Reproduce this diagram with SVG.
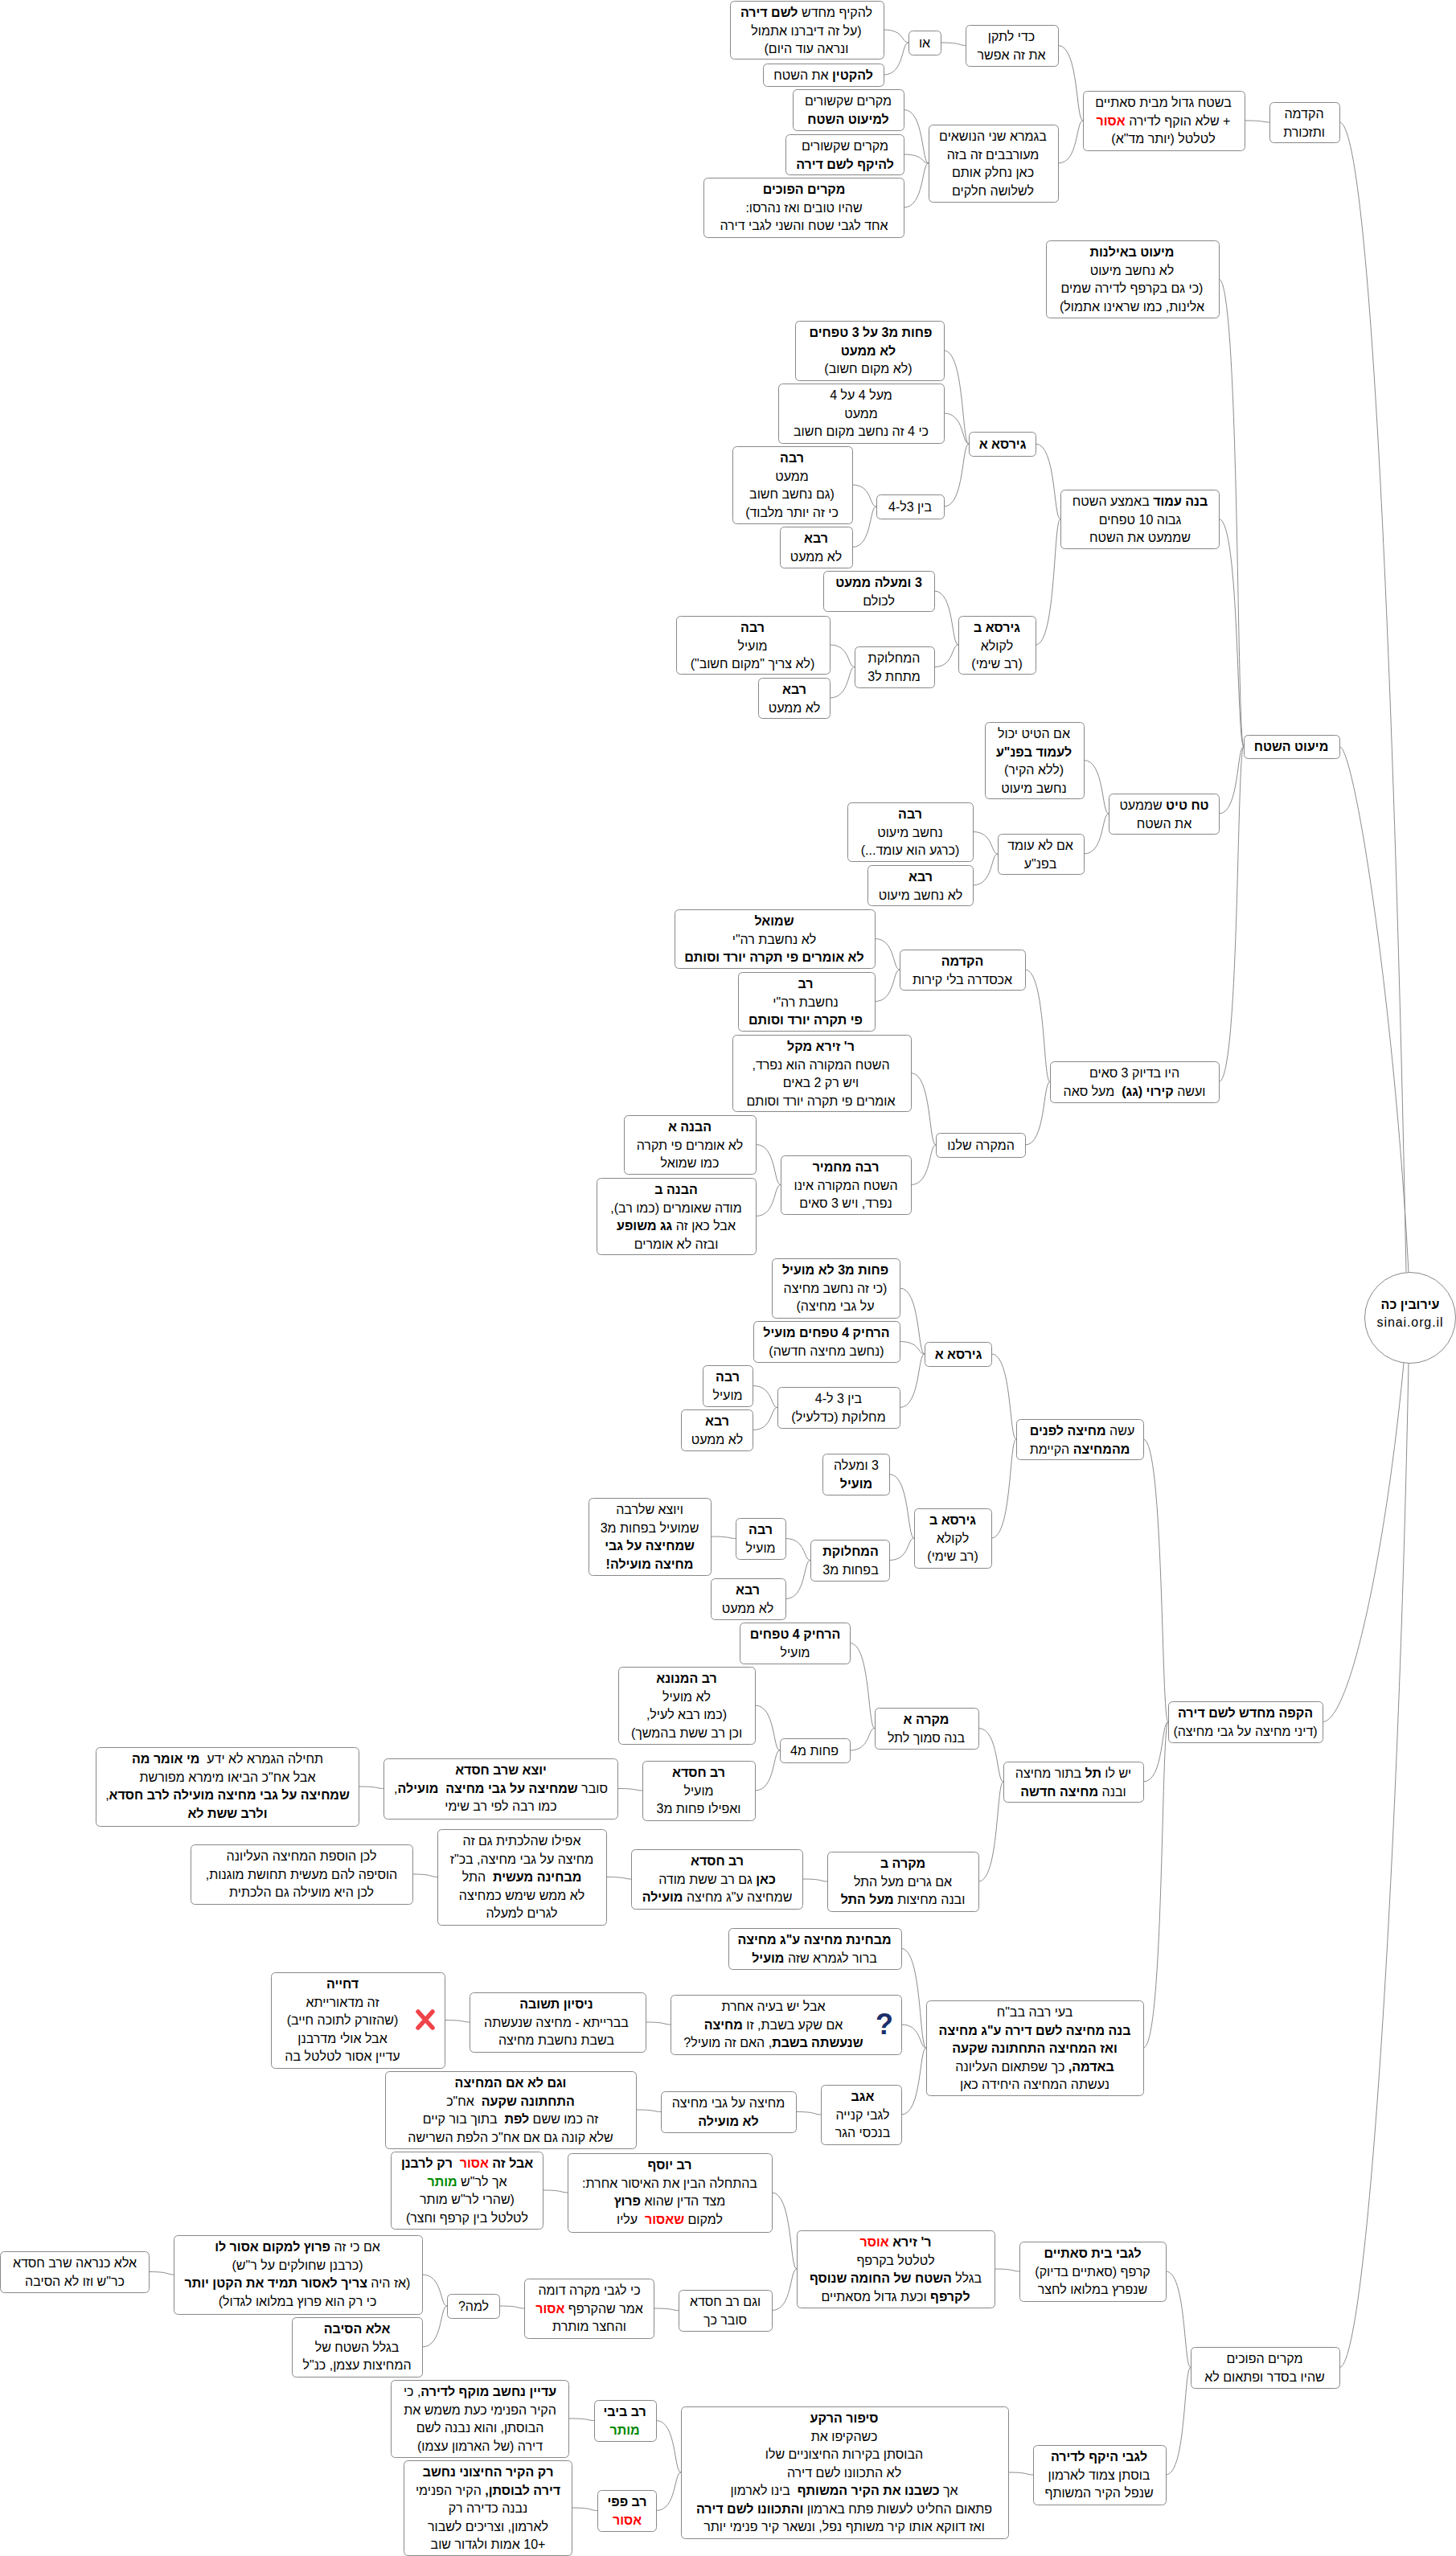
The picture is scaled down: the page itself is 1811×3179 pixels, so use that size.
<svg xmlns="http://www.w3.org/2000/svg" width="1811" height="3179" viewBox="0 0 1811 3179">
<style>
rect,circle{fill:#fff;stroke:#888;stroke-width:1}
rect{rx:5px;ry:5px}
#connectors path{fill:none;stroke:#8c8c8c;stroke-width:1}
text{font-family:"Liberation Sans",Arial,sans-serif;font-size:16px;fill:#000;text-anchor:middle;direction:rtl;white-space:pre}
.b{font-weight:bold}
.r{fill:#f00;font-weight:bold}
.g{fill:#080;font-weight:bold}
</style>
<rect x="0" y="0" width="1811" height="3179" style="fill:#fff;stroke:none"/>
<g id="connectors">
<path d="M1099 37C1125 37 1121 53 1130 53"/>
<path d="M1099 93C1125 93 1121 53 1130 53"/>
<path d="M1170 53C1196 53 1192 56.5 1201 56.5"/>
<path d="M1316 56.5C1342 56.5 1338 150 1347 150"/>
<path d="M1316 203C1342 203 1338 150 1347 150"/>
<path d="M1124 136.5C1150 136.5 1146 203 1155 203"/>
<path d="M1124 192C1150 192 1146 203 1155 203"/>
<path d="M1124 258C1150 258 1146 203 1155 203"/>
<path d="M1548 150C1574 150 1570 152 1579 152"/>
<path d="M1666 152C1705 152 1735 867 1749 1582.5"/>
<path d="M1666 928.5C1685 928.5 1735 1255 1752 1582.5"/>
<path d="M1645 2141.5C1680 2141.5 1725 1920 1746 1695"/>
<path d="M1666 2944.5C1700 2944.5 1740 2320 1752 1695"/>
<path d="M1516 347C1542 347 1538 928.5 1547 928.5"/>
<path d="M1516 645.5C1542 645.5 1538 928.5 1547 928.5"/>
<path d="M1516 1012C1542 1012 1538 928.5 1547 928.5"/>
<path d="M1516 1345.5C1542 1345.5 1538 928.5 1547 928.5"/>
<path d="M1288 552C1314 552 1310 645.5 1319 645.5"/>
<path d="M1288 802C1314 802 1310 645.5 1319 645.5"/>
<path d="M1174 436C1200 436 1196 552 1205 552"/>
<path d="M1174 514C1200 514 1196 552 1205 552"/>
<path d="M1174 630C1200 630 1196 552 1205 552"/>
<path d="M1060 603C1085 603 1081 630 1090 630"/>
<path d="M1060 680.5C1085 680.5 1081 630 1090 630"/>
<path d="M1162 735C1187 735 1183 802 1192 802"/>
<path d="M1162 829.5C1187 829.5 1183 802 1192 802"/>
<path d="M1032 802C1058 802 1054 829.5 1063 829.5"/>
<path d="M1032 868C1058 868 1054 829.5 1063 829.5"/>
<path d="M1348 945.5C1374 945.5 1370 1012 1379 1012"/>
<path d="M1348 1062C1374 1062 1370 1012 1379 1012"/>
<path d="M1210 1034.5C1236 1034.5 1232 1062 1241 1062"/>
<path d="M1210 1101C1236 1101 1232 1062 1241 1062"/>
<path d="M1275 1206C1301 1206 1297 1345.5 1306 1345.5"/>
<path d="M1275 1424C1301 1424 1297 1345.5 1306 1345.5"/>
<path d="M1088 1167.5C1114 1167.5 1110 1206 1119 1206"/>
<path d="M1088 1245.5C1114 1245.5 1110 1206 1119 1206"/>
<path d="M1133 1334.5C1159 1334.5 1155 1424 1164 1424"/>
<path d="M1133 1473.5C1159 1473.5 1155 1424 1164 1424"/>
<path d="M940 1423.5C966 1423.5 962 1473.5 971 1473.5"/>
<path d="M940 1512.5C966 1512.5 962 1473.5 971 1473.5"/>
<path d="M1422 1790C1448 1790 1444 2141.5 1453 2141.5"/>
<path d="M1422 2216C1448 2216 1444 2141.5 1453 2141.5"/>
<path d="M1422 2547C1448 2547 1444 2141.5 1453 2141.5"/>
<path d="M1233 1684C1259 1684 1255 1790 1264 1790"/>
<path d="M1233 1913C1259 1913 1255 1790 1264 1790"/>
<path d="M1119 1602C1145 1602 1141 1684 1150 1684"/>
<path d="M1119 1668.5C1145 1668.5 1141 1684 1150 1684"/>
<path d="M1119 1750.5C1145 1750.5 1141 1684 1150 1684"/>
<path d="M936 1723.5C962 1723.5 958 1750.5 967 1750.5"/>
<path d="M936 1778.5C962 1778.5 958 1750.5 967 1750.5"/>
<path d="M1106 1833.5C1132 1833.5 1128 1913 1137 1913"/>
<path d="M1106 1940.5C1132 1940.5 1128 1913 1137 1913"/>
<path d="M977 1913.5C1003 1913.5 999 1940.5 1008 1940.5"/>
<path d="M977 1988.5C1003 1988.5 999 1940.5 1008 1940.5"/>
<path d="M884 1911C910 1911 906 1913.5 915 1913.5"/>
<path d="M1217 2149.5C1243 2149.5 1239 2216 1248 2216"/>
<path d="M1217 2340C1243 2340 1239 2216 1248 2216"/>
<path d="M1057 2043.5C1083 2043.5 1079 2149.5 1088 2149.5"/>
<path d="M1057 2177C1083 2177 1079 2149.5 1088 2149.5"/>
<path d="M939 2121C965 2121 961 2177 970 2177"/>
<path d="M939 2227C965 2227 961 2177 970 2177"/>
<path d="M768 2224.5C794 2224.5 790 2227 799 2227"/>
<path d="M446 2222C472 2222 468 2224.5 477 2224.5"/>
<path d="M998 2337C1024 2337 1020 2340 1029 2340"/>
<path d="M754 2334.5C780 2334.5 776 2337 785 2337"/>
<path d="M513 2331C539 2331 535 2334.5 544 2334.5"/>
<path d="M1121 2423.5C1147 2423.5 1143 2547 1152 2547"/>
<path d="M1121 2518C1147 2518 1143 2547 1152 2547"/>
<path d="M1121 2630C1147 2630 1143 2547 1152 2547"/>
<path d="M803 2515C829 2515 825 2518 834 2518"/>
<path d="M553 2512.5C579 2512.5 575 2515 584 2515"/>
<path d="M990 2626.5C1016 2626.5 1012 2630 1021 2630"/>
<path d="M791 2624C817 2624 813 2626.5 822 2626.5"/>
<path d="M1450 2825C1476 2825 1472 2944.5 1481 2944.5"/>
<path d="M1450 3078C1476 3078 1472 2944.5 1481 2944.5"/>
<path d="M1237 2822C1263 2822 1259 2825 1268 2825"/>
<path d="M960 2727C986 2727 982 2822 991 2822"/>
<path d="M960 2873.5C986 2873.5 982 2822 991 2822"/>
<path d="M675 2724C701 2724 697 2727 706 2727"/>
<path d="M813 2871C839 2871 835 2873.5 844 2873.5"/>
<path d="M621 2868C647 2868 643 2871 652 2871"/>
<path d="M525 2829C551 2829 547 2868 556 2868"/>
<path d="M525 2919C551 2919 547 2868 556 2868"/>
<path d="M185 2825.5C211 2825.5 207 2829 216 2829"/>
<path d="M1254 3075C1280 3075 1276 3078 1285 3078"/>
<path d="M816 3010.5C842 3010.5 838 3075 847 3075"/>
<path d="M816 3122.5C842 3122.5 838 3075 847 3075"/>
<path d="M708 3008C734 3008 730 3010.5 739 3010.5"/>
<path d="M711 3119C738 3119 734 3122.5 743 3122.5"/>
</g>
<g id="root"><circle cx="1754" cy="1639" r="56.5"/><text x="1754" y="1628" class="b">עירובין כה</text><text x="1754" y="1650" style="direction:ltr;letter-spacing:0.9px">sinai.org.il</text></g>

<g id="a1"><rect x="908.5" y="1.5" width="191" height="72"/><text x="1003" y="21">להקיף מחדש <tspan class="b">לשם דירה</tspan></text><text x="1003" y="43.5">(על זה דיברנו אתמול</text><text x="1003" y="66">ונראה עוד היום)</text></g>
<g id="a2"><rect x="949.5" y="79.5" width="150" height="28"/><text x="1024" y="99"><tspan class="b">להקטין</tspan> את השטח</text></g>
<g id="a3"><rect x="1130.5" y="38.5" width="40" height="30"/><text x="1150" y="58.5">או</text></g>
<g id="a4"><rect x="1201.5" y="31.5" width="115" height="51"/><text x="1258" y="51">כדי לתקן</text><text x="1258" y="73.5">את זה אפשר</text></g>
<g id="a5"><rect x="1347.5" y="113.5" width="201" height="74"/><text x="1447" y="133">בשטח גדול מבית סאתיים</text><text x="1447" y="155.5">+ שלא הוקף לדירה <tspan class="r">אסור</tspan></text><text x="1447" y="178">לטלטל (יותר מד"א)</text></g>
<g id="a6"><rect x="1579.5" y="127.5" width="87" height="50"/><text x="1622" y="147">הקדמה</text><text x="1622" y="169.5">ותזכורת</text></g>
<g id="a7"><rect x="986.5" y="111.5" width="138" height="51"/><text x="1055" y="131">מקרים שקשורים</text><text x="1055" y="153.5" class="b">למיעוט השטח</text></g>
<g id="a8"><rect x="977.5" y="167.5" width="147" height="50"/><text x="1051" y="187">מקרים שקשורים</text><text x="1051" y="209.5" class="b">להיקף לשם דירה</text></g>
<g id="a9"><rect x="875.5" y="221.5" width="249" height="74"/><text x="1000" y="241" class="b">מקרים הפוכים</text><text x="1000" y="263.5">שהיו טובים ואז נהרסו:</text><text x="1000" y="286">אחד לגבי שטח והשני לגבי דירה</text></g>
<g id="a10"><rect x="1155.5" y="155.5" width="161" height="96"/><text x="1235" y="175">בגמרא שני הנושאים</text><text x="1235" y="197.5">מעורבבים זה בזה</text><text x="1235" y="220">כאן נחלק אותם</text><text x="1235" y="242.5">לשלושה חלקים</text></g>

<g id="b0"><rect x="1547.5" y="914.5" width="119" height="29"/><text x="1606" y="934" class="b">מיעוט השטח</text></g>
<g id="b1"><rect x="1301.5" y="299.5" width="215" height="96"/><text x="1408" y="319" class="b">מיעוט באילנות</text><text x="1408" y="341.5">לא נחשב מיעוט</text><text x="1408" y="364">(כי גם בקרפף לדירה שמים</text><text x="1408" y="386.5">אלינות, כמו שראינו אתמול)</text></g>
<g id="b2"><rect x="1319.5" y="609.5" width="197" height="73"/><text x="1418" y="629"><tspan class="b">בנה עמוד</tspan> באמצע השטח</text><text x="1418" y="651.5">גבוה 10 טפחים</text><text x="1418" y="674">שממעט את השטח</text></g>
<g id="b3"><rect x="1379.5" y="987.5" width="137" height="50"/><text x="1448" y="1007"><tspan class="b">טח טיט</tspan> שממעט</text><text x="1448" y="1029.5">את השטח</text></g>
<g id="b4"><rect x="1306.5" y="1320.5" width="210" height="51"/><text x="1411" y="1340">היו בדיוק 3 סאים</text><text x="1411" y="1362.5">ועשה <tspan class="b">קירוי (גג)</tspan>  מעל סאה</text></g>
<g id="b5"><rect x="1205.5" y="537.5" width="83" height="30"/><text x="1247" y="557.5" class="b">גירסא א</text></g>
<g id="b6"><rect x="1192.5" y="766.5" width="96" height="72"/><text x="1240" y="786" class="b">גירסא ב</text><text x="1240" y="808.5">לקולא</text><text x="1240" y="831">(רב שימי)</text></g>
<g id="b7"><rect x="989.5" y="399.5" width="185" height="74"/><text x="1083" y="419" class="b">פחות מ3 על 3 טפחים</text><text x="1080" y="441.5" class="b">לא ממעט</text><text x="1080" y="464">(לא מקום חשוב)</text></g>
<g id="b8"><rect x="968.5" y="477.5" width="206" height="74"/><text x="1071" y="497">מעל 4 על 4</text><text x="1071" y="519.5">ממעט</text><text x="1071" y="542">כי 4 זה נחשב מקום חשוב</text></g>
<g id="b9"><rect x="1090.5" y="615.5" width="84" height="30"/><text x="1132" y="636">בין 3ל-4</text></g>
<g id="b10"><rect x="911.5" y="555.5" width="149" height="96"/><text x="985" y="575" class="b">רבה</text><text x="985" y="597.5">ממעט</text><text x="985" y="620">(גם נחשב חשוב</text><text x="985" y="642.5">כי זה יותר מלבוד)</text></g>
<g id="b11"><rect x="970.5" y="655.5" width="90" height="51"/><text x="1015" y="675" class="b">רבא</text><text x="1015" y="697.5">לא ממעט</text></g>
<g id="b12"><rect x="1024.5" y="710.5" width="138" height="50"/><text x="1093" y="730" class="b">3 ומעלה ממעט</text><text x="1093" y="752.5">לכולם</text></g>
<g id="b13"><rect x="1063.5" y="804.5" width="99" height="51"/><text x="1112" y="824">המחלוקת</text><text x="1112" y="846.5">מתחת ל3</text></g>
<g id="b14"><rect x="841.5" y="766.5" width="191" height="72"/><text x="936" y="786" class="b">רבה</text><text x="936" y="808.5">מועיל</text><text x="936" y="831">(לא צריך "מקום חשוב")</text></g>
<g id="b15"><rect x="943.5" y="843.5" width="89" height="50"/><text x="988" y="863" class="b">רבא</text><text x="988" y="885.5">לא ממעט</text></g>
<g id="b16"><rect x="1225.5" y="898.5" width="123" height="95"/><text x="1286" y="918">אם הטיט יכול</text><text x="1286" y="940.5" class="b">לעמוד בפנ"ע</text><text x="1286" y="963">(ללא הקיר)</text><text x="1286" y="985.5">נחשב מיעוט</text></g>
<g id="b17"><rect x="1241.5" y="1037.5" width="107" height="50"/><text x="1294" y="1057">אם לא עומד</text><text x="1294" y="1079.5">בפנ"ע</text></g>
<g id="b18"><rect x="1054.5" y="998.5" width="156" height="73"/><text x="1132" y="1018" class="b">רבה</text><text x="1132" y="1040.5">נחשב מיעוט</text><text x="1132" y="1063">(כרגע הוא עומד...)</text></g>
<g id="b19"><rect x="1079.5" y="1076.5" width="131" height="50"/><text x="1145" y="1096" class="b">רבא</text><text x="1145" y="1118.5">לא נחשב מיעוט</text></g>
<g id="b20"><rect x="1119.5" y="1181.5" width="156" height="50"/><text x="1197" y="1201" class="b">הקדמה</text><text x="1197" y="1223.5">אכסדרה בלי קירות</text></g>
<g id="b21"><rect x="1164.5" y="1409.5" width="111" height="30"/><text x="1220" y="1430">המקרה שלנו</text></g>
<g id="b22"><rect x="839.5" y="1131.5" width="249" height="73"/><text x="963" y="1151" class="b">שמואל</text><text x="963" y="1173.5">לא נחשבת רה"י</text><text x="963" y="1196" class="b">לא אומרים פי תקרה יורד וסותם</text></g>
<g id="b23"><rect x="918.5" y="1209.5" width="170" height="73"/><text x="1002" y="1229" class="b">רב</text><text x="1002" y="1251.5">נחשבת רה"י</text><text x="1002" y="1274" class="b">פי תקרה יורד וסותם</text></g>
<g id="b24"><rect x="911.5" y="1287.5" width="222" height="95"/><text x="1021" y="1307" class="b">ר' זירא מקל</text><text x="1021" y="1329.5">השטח המקורה הוא נפרד,</text><text x="1021" y="1352">ויש רק 2 באים</text><text x="1021" y="1374.5">אומרים פי תקרה יורד וסותם</text></g>
<g id="b25"><rect x="971.5" y="1437.5" width="162" height="73"/><text x="1052" y="1457" class="b">רבה מחמיר</text><text x="1052" y="1479.5">השטח המקורה אינו</text><text x="1052" y="1502">נפרד, ויש 3 סאים</text></g>
<g id="b26"><rect x="776.5" y="1387.5" width="164" height="73"/><text x="858" y="1407" class="b">הבנה א</text><text x="858" y="1429.5">לא אומרים פי תקרה</text><text x="858" y="1452">כמו שמואל</text></g>
<g id="b27"><rect x="742.5" y="1465.5" width="198" height="95"/><text x="841" y="1485" class="b">הבנה ב</text><text x="841" y="1507.5">מודה שאומרים (כמו רב),</text><text x="841" y="1530">אבל כאן זה <tspan class="b">גג משופע</tspan></text><text x="841" y="1552.5">ובזה לא אומרים</text></g>

<g id="c0"><rect x="1453.5" y="2116.5" width="192" height="51"/><text x="1549" y="2136" class="b">הקפה מחדש לשם דירה</text><text x="1549" y="2158.5">(דיני מחיצה על גבי מחיצה)</text></g>
<g id="c1"><rect x="1264.5" y="1765.5" width="158" height="50"/><text x="1346" y="1785">עשה <tspan class="b">מחיצה לפנים</tspan></text><text x="1343" y="1807.5"><tspan class="b">מהמחיצה</tspan> הקיימת</text></g>
<g id="c2"><rect x="1248.5" y="2191.5" width="174" height="50"/><text x="1335" y="2211">יש לו <tspan class="b">תל</tspan> בתור מחיצה</text><text x="1335" y="2233.5">ובנה <tspan class="b">מחיצה חדשה</tspan></text></g>
<g id="c3"><rect x="1152.5" y="2488.5" width="270" height="118"/><text x="1287" y="2508">בעי רבה בב"ח</text><text x="1287" y="2530.5" class="b">בנה מחיצה לשם דירה ע"ג מחיצה</text><text x="1287" y="2553" class="b">ואז המחיצה התחתונה שקעה</text><text x="1287" y="2575.5"><tspan class="b">באדמה,</tspan> כך שפתאום העליונה</text><text x="1287" y="2598">נעשתה המחיצה היחידה כאן</text></g>
<g id="c4"><rect x="1150.5" y="1669.5" width="83" height="30"/><text x="1192" y="1690" class="b">גירסא א</text></g>
<g id="c5"><rect x="1137.5" y="1876.5" width="96" height="74"/><text x="1185" y="1896" class="b">גירסא ב</text><text x="1185" y="1918.5">לקולא</text><text x="1185" y="1941">(רב שימי)</text></g>
<g id="c6"><rect x="960.5" y="1565.5" width="159" height="74"/><text x="1039" y="1585" class="b">פחות מ3 לא מועיל</text><text x="1039" y="1607.5">(כי זה נחשב מחיצה</text><text x="1039" y="1630">על גבי מחיצה)</text></g>
<g id="c7"><rect x="937.5" y="1643.5" width="182" height="51"/><text x="1028" y="1663" class="b">הרחיק 4 טפחים מועיל</text><text x="1028" y="1685.5">(נחשב מחיצה חדשה)</text></g>
<g id="c8"><rect x="967.5" y="1725.5" width="152" height="51"/><text x="1043" y="1745">בין 3 ל-4</text><text x="1043" y="1767.5">מחלוקת (כדלעיל)</text></g>
<g id="c9"><rect x="874.5" y="1698.5" width="62" height="51"/><text x="905" y="1718" class="b">רבה</text><text x="905" y="1740.5">מועיל</text></g>
<g id="c10"><rect x="847.5" y="1753.5" width="89" height="51"/><text x="892" y="1773" class="b">רבא</text><text x="892" y="1795.5">לא ממעט</text></g>
<g id="c11"><rect x="1023.5" y="1808.5" width="83" height="51"/><text x="1065" y="1828">3 ומעלה</text><text x="1065" y="1850.5" class="b">מועיל</text></g>
<g id="c12"><rect x="1008.5" y="1915.5" width="98" height="51"/><text x="1058" y="1935" class="b">המחלוקת</text><text x="1058" y="1957.5">בפחות מ3</text></g>
<g id="c13"><rect x="915.5" y="1888.5" width="62" height="51"/><text x="946" y="1908" class="b">רבה</text><text x="946" y="1930.5">מועיל</text></g>
<g id="c14"><rect x="884.5" y="1963.5" width="93" height="51"/><text x="930" y="1983" class="b">רבא</text><text x="930" y="2005.5">לא ממעט</text></g>
<g id="c15"><rect x="732.5" y="1863.5" width="152" height="96"/><text x="808" y="1883">ויוצא שלרבה</text><text x="808" y="1905.5">שמועיל בפחות מ3</text><text x="808" y="1928" class="b">שמחיצה על גבי</text><text x="808" y="1950.5" class="b">מחיצה מועילה!</text></g>
<g id="c16"><rect x="1088.5" y="2124.5" width="129" height="51"/><text x="1152" y="2144" class="b">מקרה א</text><text x="1152" y="2166.5">בנה סמוך לתל</text></g>
<g id="c17"><rect x="1029.5" y="2303.5" width="188" height="74"/><text x="1123" y="2323" class="b">מקרה ב</text><text x="1123" y="2345.5">אם גרים מעל התל</text><text x="1123" y="2368">ובנה מחיצות <tspan class="b">מעל התל</tspan></text></g>
<g id="c18"><rect x="920.5" y="2018.5" width="137" height="51"/><text x="989" y="2038" class="b">הרחיק 4 טפחים</text><text x="989" y="2060.5">מועיל</text></g>
<g id="c19"><rect x="970.5" y="2162.5" width="87" height="30"/><text x="1013" y="2183">פחות מ4</text></g>
<g id="c20"><rect x="769.5" y="2073.5" width="170" height="96"/><text x="854" y="2093" class="b">רב המנונא</text><text x="854" y="2115.5">לא מועיל</text><text x="854" y="2138">(כמו רבא לעיל,</text><text x="854" y="2160.5">וכן רב ששת בהמשך)</text></g>
<g id="c21"><rect x="799.5" y="2190.5" width="140" height="74"/><text x="869" y="2210" class="b">רב חסדא</text><text x="869" y="2232.5">מועיל</text><text x="869" y="2255">ואפילו פחות מ3</text></g>
<g id="c22"><rect x="477.5" y="2187.5" width="291" height="75"/><text x="623" y="2207" class="b">יוצא שרב חסדא</text><text x="623" y="2229.5">סובר <tspan class="b">שמחיצה על גבי מחיצה  מועילה</tspan>,</text><text x="623" y="2252">כמו רבה לפי רב שימי</text></g>
<g id="c23"><rect x="119.5" y="2173.5" width="327" height="98"/><text x="283" y="2193">תחילה הגמרא לא ידע  <tspan class="b">מי אומר מה</tspan></text><text x="283" y="2215.5">אבל אח"כ הביאו מימרא מפורשת</text><text x="283" y="2238"><tspan class="b">שמחיצה על גבי מחיצה מועילה לרב חסדא</tspan>,</text><text x="283" y="2260.5" class="b">ולרב ששת לא</text></g>
<g id="c24"><rect x="785.5" y="2300.5" width="213" height="74"/><text x="892" y="2320" class="b">רב חסדא</text><text x="892" y="2342.5"><tspan class="b">כאן</tspan> גם רב ששת מודה</text><text x="892" y="2365">שמחיצה ע"ג מחיצה <tspan class="b">מועילה</tspan></text></g>
<g id="c25"><rect x="544.5" y="2275.5" width="210" height="119"/><text x="649" y="2295">אפילו שהלכתית גם זה</text><text x="649" y="2317.5">מחיצה על גבי מחיצה, בכ"ז</text><text x="649" y="2340"><tspan class="b">מבחינה מעשית</tspan>  התל</text><text x="649" y="2362.5">לא ממש שימש כמחיצה</text><text x="649" y="2385">לגרים למעלה</text></g>
<g id="c26"><rect x="237.5" y="2294.5" width="276" height="74"/><text x="375" y="2314">לכן הוספת המחיצה העליונה</text><text x="375" y="2336.5">הוסיפה להם מעשית תחושת מוגנות,</text><text x="375" y="2359">לכן היא מועילה גם הלכתית</text></g>
<g id="c27"><rect x="906.5" y="2398.5" width="215" height="51"/><text x="1013" y="2418" class="b">מבחינת מחיצה ע"ג מחיצה</text><text x="1013" y="2440.5">ברור לגמרא שזה <tspan class="b">מועיל</tspan></text></g>
<g id="c28"><rect x="834.5" y="2481.5" width="287" height="74"/><text x="962" y="2501">אבל יש בעיה אחרת</text><text x="962" y="2523.5">אם שקע בשבת, זו <tspan class="b">מחיצה</tspan></text><text x="962" y="2546"><tspan class="b">שנעשתה בשבת</tspan>, האם זה מועיל?</text><text x="1100" y="2530" style="font-size:36px;font-weight:bold;fill:#1c2f6b;direction:ltr">?</text></g>
<g id="c29"><rect x="584.5" y="2478.5" width="219" height="74"/><text x="692" y="2498" class="b">ניסיון תשובה</text><text x="692" y="2520.5">בברייתא - מחיצה שנעשתה</text><text x="692" y="2543">בשבת נחשבת מחיצה</text></g>
<g id="c30"><rect x="337.5" y="2453.5" width="216" height="119"/><text x="426" y="2473" class="b">דחייה</text><text x="426" y="2495.5">זה מדאורייתא</text><text x="426" y="2518">(שהזורק לתוכה חייב)</text><text x="426" y="2540.5">אבל אולי מדרבנן</text><text x="426" y="2563">עדיין אסור לטלטל בה</text><path d="M520 2502L538 2522M538 2502L520 2522" style="fill:none;stroke:#f0434a;stroke-width:5.5;stroke-linecap:round"/></g>
<g id="c31"><rect x="1021.5" y="2593.5" width="100" height="74"/><text x="1073" y="2613" class="b">אגב</text><text x="1073" y="2635.5">לגבי קנייה</text><text x="1073" y="2658">בנכסי הגר</text></g>
<g id="c32"><rect x="822.5" y="2601.5" width="168" height="51"/><text x="906" y="2621">מחיצה על גבי מחיצה</text><text x="906" y="2643.5" class="b">לא מועילה</text></g>
<g id="c33"><rect x="479.5" y="2576.5" width="312" height="96"/><text x="635" y="2596" class="b">וגם לא אם המחיצה</text><text x="635" y="2618.5"><tspan class="b">התחתונה שקעה</tspan>  אח"כ</text><text x="635" y="2641">זה כמו ששם <tspan class="b">לפת</tspan>  בתוך בור קיים</text><text x="635" y="2663.5">שלא קונה גם אם אח"כ הלפת השרישה</text></g>

<g id="d0"><rect x="1481.5" y="2919.5" width="185" height="51"/><text x="1573" y="2939">מקרים הפוכים</text><text x="1573" y="2961.5">שהיו בסדר ופתאום לא</text></g>
<g id="d1"><rect x="1268.5" y="2788.5" width="182" height="74"/><text x="1359" y="2808" class="b">לגבי בית סאתיים</text><text x="1359" y="2830.5">קרפף (סאתיים בדיוק)</text><text x="1359" y="2853">שנפרץ במלואו לחצר</text></g>
<g id="d2"><rect x="1285.5" y="3041.5" width="165" height="74"/><text x="1367" y="3061" class="b">לגבי היקף לדירה</text><text x="1367" y="3083.5">בוסתן צמוד לארמון</text><text x="1367" y="3106">שנפל הקיר המשותף</text></g>
<g id="d3"><rect x="991.5" y="2774.5" width="246" height="96"/><text x="1114" y="2794"><tspan class="b">ר' זירא</tspan> <tspan class="r">אוסר</tspan></text><text x="1114" y="2816.5">לטלטל בקרפף</text><text x="1114" y="2839">בגלל <tspan class="b">השטח של החומה שנוסף</tspan></text><text x="1114" y="2861.5"><tspan class="b">לקרפף</tspan> וכעת גדול מסאתיים</text></g>
<g id="d4"><rect x="706.5" y="2678.5" width="254" height="98"/><text x="833" y="2698" class="b">רב יוסף</text><text x="833" y="2720.5">בהתחלה הבין את האיסור אחרת:</text><text x="833" y="2743">מצד הדין שהוא <tspan class="b">פרוץ</tspan></text><text x="833" y="2765.5">למקום <tspan class="r">שאסור</tspan>  עליו</text></g>
<g id="d5"><rect x="844.5" y="2848.5" width="116" height="51"/><text x="902" y="2868">וגם רב חסדא</text><text x="902" y="2890.5">סובר כך</text></g>
<g id="d6"><rect x="486.5" y="2676.5" width="189" height="96"/><text x="581" y="2696"><tspan class="b">אבל זה</tspan> <tspan class="r">אסור</tspan>  <tspan class="b">רק לרבנן</tspan></text><text x="581" y="2718.5">אך לר"ש <tspan class="g">מותר</tspan></text><text x="581" y="2741">(שהרי לר"ש מותר</text><text x="581" y="2763.5">לטלטל בין קרפף וחצר)</text></g>
<g id="d7"><rect x="652.5" y="2834.5" width="161" height="74"/><text x="733" y="2854">כי לגבי מקרה דומה</text><text x="733" y="2876.5">אמר שהקרפף <tspan class="r">אסור</tspan></text><text x="733" y="2899">והחצר מותרת</text></g>
<g id="d8"><rect x="556.5" y="2853.5" width="65" height="30"/><text x="589" y="2874">למה?</text></g>
<g id="d9"><rect x="216.5" y="2780.5" width="309" height="98"/><text x="370" y="2800">אם כי זה <tspan class="b">פרוץ למקום אסור לו</tspan></text><text x="370" y="2822.5">(כרבנן שחולקים על ר"ש)</text><text x="370" y="2845">(אז היה <tspan class="b">צריך לאסור תמיד את הקטן יותר</tspan></text><text x="370" y="2867.5">כי רק הוא פרוץ במלואו לגדול)</text></g>
<g id="d10"><rect x="363.5" y="2882.5" width="162" height="74"/><text x="444" y="2902" class="b">אלא הסיבה</text><text x="444" y="2924.5">בגלל השטח של</text><text x="444" y="2947">המחיצות עצמן, כנ"ל</text></g>
<g id="d11"><rect x="0.5" y="2800.5" width="185" height="51"/><text x="93" y="2820">אלא כנראה שרב חסדא</text><text x="93" y="2842.5">כר"ש וזו לא הסיבה</text></g>
<g id="d12"><rect x="847.5" y="2993.5" width="407" height="164"/><text x="1050" y="3013" class="b">סיפור הרקע</text><text x="1050" y="3035.5">כשהקיפו את</text><text x="1050" y="3058">הבוסתן בקירות החיצוניים שלו</text><text x="1050" y="3080.5">לא התכוונו לשם דירה</text><text x="1050" y="3103">אך <tspan class="b">כשבנו את הקיר המשותף</tspan>  בינו לארמון</text><text x="1050" y="3125.5">פתאום החליט לעשות פתח בארמון <tspan class="b">והתכוונו לשם דירה</tspan></text><text x="1050" y="3148">ואז דווקא אותו קיר משותף נפל, ונשאר קיר פנימי יותר</text></g>
<g id="d13"><rect x="739.5" y="2985.5" width="77" height="51"/><text x="777" y="3005" class="b">רב ביבי</text><text x="777" y="3027.5" class="g">מותר</text></g>
<g id="d14"><rect x="743.5" y="3097.5" width="73" height="51"/><text x="780" y="3117" class="b">רב פפי</text><text x="780" y="3139.5" class="r">אסור</text></g>
<g id="d15"><rect x="486.5" y="2960.5" width="221" height="96"/><text x="597" y="2980"><tspan class="b">עדיין נחשב מוקף לדירה</tspan>, כי</text><text x="597" y="3002.5">הקיר הפנימי כעת משמש את</text><text x="597" y="3025">הבוסתן, והוא נבנה לשם</text><text x="597" y="3047.5">דירה (של הארמון עצמו)</text></g>
<g id="d16"><rect x="502.5" y="3060.5" width="209" height="118"/><text x="607" y="3080" class="b">רק הקיר החיצוני נחשב</text><text x="607" y="3102.5"><tspan class="b">דירה לבוסתן,</tspan> הקיר הפנימי</text><text x="607" y="3125">נבנה כדירה רק</text><text x="607" y="3147.5">לארמון, וצריכים לשבור</text><text x="607" y="3170">+10 אמות ולגדור שוב</text></g>
</svg>
